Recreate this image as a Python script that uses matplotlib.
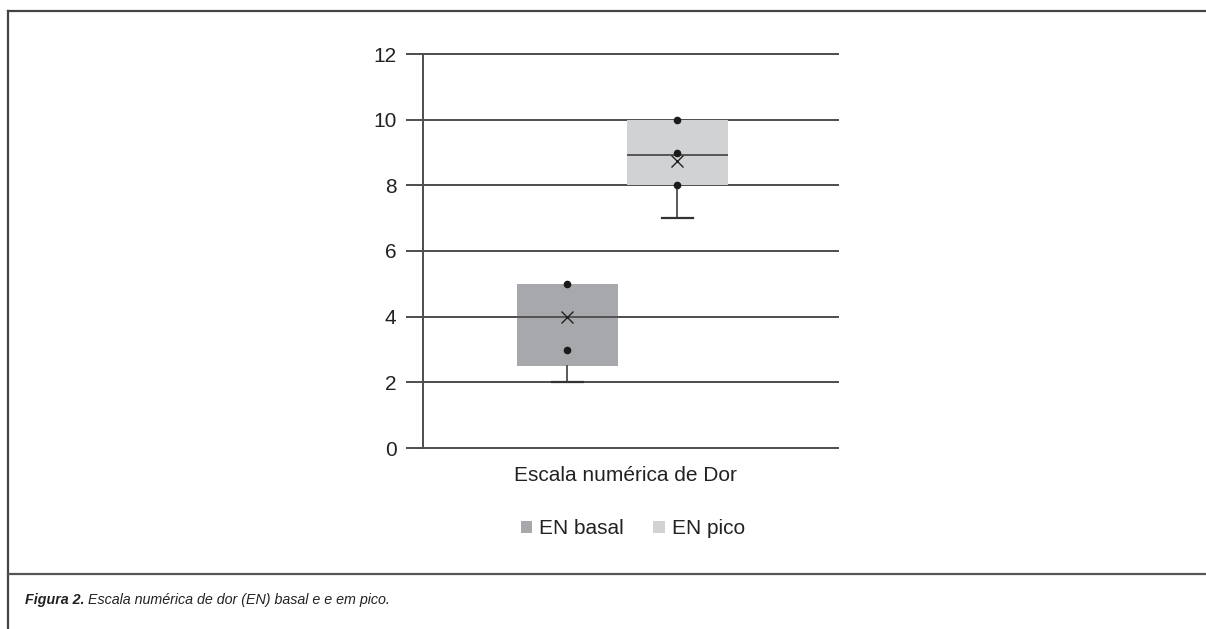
import numpy as np
import matplotlib.pyplot as plt
from matplotlib.lines import Line2D
from matplotlib.patches import Patch

plt.rcParams['font.family'] = ['Liberation Sans', 'DejaVu Sans']

# Data
groups = ['EN basal', 'EN pico']
q1 = [2.5, 8.0]
q3 = [5.0, 10.0]
medians = [4.0, 8.93]
means = [4.0, 8.75]
whis_lo = [2.0, 7.0]
whis_hi = [5.0, 10.0]
points = [[3.0, 5.0], [8.0, 9.0, 10.0]]
category = 'Escala numérica de Dor'
yticks = [0, 2, 4, 6, 8, 10, 12]

box_colors = ['#a7a8ab', '#d1d2d4']
line_col = '#4d4d4d'

fig = plt.figure(figsize=(12.06, 6.29), dpi=100)
ax = fig.add_axes([423 / 1206, 1 - 448 / 629, 415 / 1206, 394 / 629])

pos = [0.348, 0.613]
wid = 0.243

stats = []
for i in range(len(groups)):
    stats.append(dict(med=medians[i], q1=q1[i], q3=q3[i], whislo=whis_lo[i],
                      whishi=whis_hi[i], mean=means[i], fliers=[]))

bp = ax.bxp(stats, positions=pos, widths=wid, showmeans=True, patch_artist=True,
            showcaps=True,
            boxprops=dict(linewidth=0),
            medianprops=dict(color=line_col, linewidth=1.3),
            whiskerprops=dict(color=line_col, linewidth=1.3),
            capprops=dict(color='#333333', linewidth=1.6),
            meanprops=dict(marker='x', markeredgecolor='#222222', markersize=8,
                           markeredgewidth=1.0),
            capwidths=0.075, zorder=3)
for patch, c in zip(bp['boxes'], box_colors):
    patch.set_facecolor(c)
    patch.set_edgecolor(c)
# upper caps are not drawn in the original
for cap in bp['caps'][1::2]:
    cap.set_visible(False)

for i, pts in enumerate(points):
    ax.scatter([pos[i]] * len(pts), pts, s=20, color='#1a1a1a', zorder=5)

ax.set_xlim(0, 1)
ax.set_ylim(0, 12)
ax.set_yticks(yticks)
ax.yaxis.grid(True, color=line_col, linewidth=1.4, zorder=4)
for gl in ax.get_ygridlines():
    gl.set_clip_on(False)
ax.set_axisbelow(False)
for s in ['top', 'right', 'bottom']:
    ax.spines[s].set_visible(False)
ax.spines['left'].set_color(line_col)
ax.spines['left'].set_linewidth(1.4)
ax.tick_params(axis='y', length=12, width=1.4, color=line_col, labelsize=15,
               pad=7, labelcolor='#222222')
ax.set_xticks([])
ax.set_xlabel(category, fontsize=15, color='#222222', labelpad=14)
ax.xaxis.set_label_coords((625 - 423) / 415, -0.07)
ax.xaxis.label.set_va('center')

handles = [Patch(facecolor=c, edgecolor='none') for c in box_colors]
fig.legend(handles, groups, loc='center', bbox_to_anchor=(633 / 1206, 1 - 529 / 629),
           ncol=2, frameon=False, fontsize=15, handlelength=0.55, handleheight=0.55,
           columnspacing=1.4, handletextpad=0.35, labelcolor='#222222')

# frame lines
fig.add_artist(Line2D([7.5 / 1206, 1], [1 - 11 / 629, 1 - 11 / 629], color='#444444', lw=1.6))
fig.add_artist(Line2D([7.5 / 1206, 7.5 / 1206], [0, 1 - 11 / 629], color='#444444', lw=1.6))
fig.add_artist(Line2D([7.5 / 1206, 1], [1 - 574 / 629, 1 - 574 / 629], color='#555555', lw=1.6))

# caption
fig.canvas.draw()
r = fig.canvas.get_renderer()
t1 = fig.text(25 / 1206, 1 - 600 / 629, 'Figura 2.', fontsize=10.25, fontweight='bold',
              fontstyle='italic', va='center', color='#222222')
bb = t1.get_window_extent(renderer=r)
fig.text(bb.x1 / fig.bbox.width + 3 / 1206, 1 - 600 / 629,
         'Escala numérica de dor (EN) basal e e em pico.', fontsize=10.25,
         fontstyle='italic', va='center', color='#222222')

fig.savefig('out.png', dpi=100)
